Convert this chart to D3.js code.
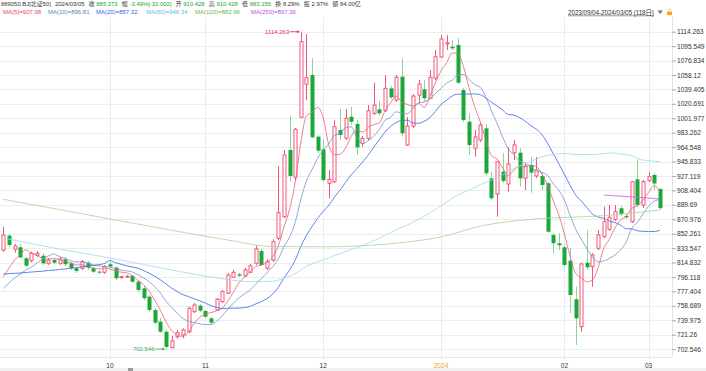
<!DOCTYPE html>
<html>
<head>
<meta charset="utf-8">
<script src="https://cdn.jsdelivr.net/npm/d3@7"></script>
<style>
  html, body { margin: 0; padding: 0; background: #fff; }
  svg { display: block; font-family: "Liberation Sans", "Noto Sans CJK SC", sans-serif; }
</style>
</head>
<body>
<svg id="chart" width="706" height="371"></svg>
<script>
// trading days shown (118)
const tradingDays = [
  ["2023-09", [4,5,6,7,8,11,12,13,14,15,18,19,20,21,22,25,26,27,28]],
  ["2023-10", [9,10,11,12,13,16,17,18,19,20,23,24,25,26,27,30,31]],
  ["2023-11", [1,2,3,6,7,8,9,10,13,14,15,16,17,20,21,22,23,27,28,29,30]],
  ["2023-12", [1,4,5,6,7,8,11,12,13,14,15,18,19,20,21,22,25,26,27,28,29]],
  ["2024-01", [2,3,4,5,8,9,10,11,12,15,16,17,18,19,22,23,24,25,26,29,30,31]],
  ["2024-02", [1,2,5,6,7,8,19,20,21,22,23,26,27,28,29]],
  ["2024-03", [1,4,5]]
];
const dates = tradingDays.flatMap(([m, ds]) => ds.map(d => `${m}-${String(d).padStart(2, "0")}`));

const opens = [
  831.1, 849.7, 832.0, 834.6, 820.3, 817.2, 824.2, 823.7, 813.8, 818.1,
  813.8, 819.0, 813.8, 807.4, 807.4, 814.6, 807.4, 803.0, 802.2, 812.6,
  808.2, 795.7, 796.0, 797.4, 790.0, 781.4, 770.6, 753.3, 738.1, 725.1,
  704.4, 718.7, 720.9, 725.1, 751.1, 758.9, 752.0, 742.5, 753.3, 764.1,
  775.0, 795.7, 799.6, 797.4, 802.2, 813.8, 829.8, 807.4, 818.1, 846.3,
  874.3, 960.8, 925.4, 1003.2, 1046.0, 1058.1, 978.1, 961.7, 917.6, 919.7,
  986.7, 976.0, 1004.0, 994.5, 969.5, 976.0, 1008.4, 1013.6, 1011.8, 1040.8,
  1025.6, 1055.9, 967.3, 991.9, 1032.1, 1039.5, 1027.9, 1054.2, 1081.4, 1098.3,
  1094.8, 1097.0, 1038.6, 997.5, 963.0, 973.8, 988.9, 924.1, 903.7, 932.7,
  916.7, 957.3, 957.3, 924.1, 941.3, 927.1, 927.1, 917.6, 850.6, 839.8,
  834.6, 817.2, 767.2, 731.6, 814.6, 809.5, 833.3, 848.4, 857.9, 870.9,
  885.2, 875.2, 867.8, 922.8, 889.5, 921.0, 928.4, 910.428
];
const highs = [
  861.3, 851.9, 838.9, 838.9, 822.0, 828.9, 829.8, 827.2, 820.7, 820.7,
  822.0, 822.0, 815.5, 809.1, 818.1, 816.8, 809.1, 805.2, 811.7, 815.5,
  810.4, 797.4, 798.7, 798.7, 792.2, 784.4, 772.7, 755.9, 742.9, 727.4,
  719.6, 727.4, 729.6, 757.6, 762.4, 761.1, 753.3, 744.2, 768.9, 779.2,
  801.3, 805.2, 801.3, 807.8, 813.0, 836.7, 832.4, 819.4, 845.0, 940.0,
  960.8, 1005.3, 989.3, 1114.263, 1111.2, 1079.7, 980.3, 973.8, 934.9, 999.7,
  1014.0, 1014.0, 1016.9, 999.7, 978.9, 1019.2, 1048.1, 1024.7, 1058.1, 1043.8,
  1058.1, 1079.7, 1003.6, 1033.4, 1051.6, 1051.6, 1064.6, 1090.5, 1110.0, 1109.9,
  1103.6, 1105.7, 1041.2, 1008.8, 986.7, 995.8, 994.5, 932.7, 946.5, 957.0,
  964.7, 973.8, 963.4, 943.9, 951.7, 951.7, 932.3, 919.3, 853.2, 853.2,
  837.6, 833.7, 783.5, 814.6, 857.1, 826.8, 857.1, 887.3, 889.5, 889.5,
  888.2, 877.8, 920.6, 948.7, 921.9, 931.9, 931.0, 910.428
];
const lows = [
  828.9, 835.0, 827.6, 820.3, 809.1, 815.2, 822.0, 811.7, 811.7, 813.0,
  811.7, 810.4, 805.2, 801.3, 805.2, 805.2, 801.3, 800.0, 800.0, 807.8,
  792.2, 793.5, 794.8, 788.3, 776.6, 766.3, 750.7, 735.1, 723.5, 702.546,
  703.6, 715.7, 716.6, 723.1, 749.4, 750.7, 742.9, 735.1, 752.0, 762.4,
  774.0, 794.8, 796.1, 796.1, 801.3, 811.7, 810.4, 805.2, 815.5, 844.1,
  872.6, 919.7, 921.9, 1002.3, 1025.6, 976.0, 957.0, 919.3, 898.2, 918.0,
  973.8, 973.8, 993.2, 954.3, 965.1, 973.8, 1006.2, 1006.2, 1010.1, 1026.9,
  1023.0, 978.1, 966.0, 989.3, 1021.8, 1023.4, 1026.9, 1051.6, 1080.1, 1090.5,
  1090.5, 1046.4, 997.1, 954.3, 952.1, 971.2, 928.4, 895.6, 874.3, 918.0,
  906.7, 947.8, 913.2, 908.9, 905.4, 924.5, 908.9, 853.2, 827.2, 831.1,
  809.1, 749.4, 707.9, 725.1, 805.2, 783.5, 831.1, 846.7, 855.8, 868.7,
  875.2, 871.3, 866.1, 886.9, 885.6, 919.3, 908.9, 883.155
];
const closes = [
  850.6, 837.6, 836.3, 821.6, 810.7, 826.8, 826.8, 813.8, 818.1, 814.6,
  819.4, 812.6, 807.4, 803.9, 815.9, 808.2, 803.0, 801.7, 809.5, 809.5,
  794.4, 796.5, 796.9, 790.0, 779.2, 768.5, 753.3, 736.8, 725.1, 705.3,
  713.1, 723.9, 727.4, 755.5, 759.8, 752.4, 744.6, 736.8, 767.2, 777.0,
  798.7, 802.2, 797.8, 805.2, 810.7, 832.4, 811.7, 815.9, 841.9, 879.5,
  954.3, 927.1, 987.6, 1101.3, 1054.6, 977.3, 959.9, 921.9, 922.8, 991.0,
  980.3, 1001.9, 997.5, 964.3, 976.0, 1011.8, 1019.2, 1008.4, 1040.8, 1029.2,
  1055.1, 982.5, 991.9, 1030.8, 1046.4, 1027.9, 1055.1, 1081.8, 1104.8, 1099.9,
  1092.7, 1048.1, 999.7, 967.3, 977.7, 993.2, 930.6, 898.2, 945.6, 920.6,
  942.6, 967.3, 924.1, 940.0, 931.4, 934.9, 915.4, 854.8, 839.8, 837.2,
  811.7, 772.7, 742.5, 813.0, 808.7, 824.6, 850.6, 867.8, 873.5, 880.8,
  877.8, 873.5, 919.7, 889.5, 919.7, 926.2, 917.4, 885.373
];

// moving-average values before a full window is on screen
const ma5Head = [796.5, 807.8, 818.1, 824.6];
const ma10Head = [781.4, 788.3, 794.8, 800.0, 805.2, 809.1, 814.3, 819.4, 823.3];
const ma20Head = [799.8, 800.4, 800.9, 801.2, 801.9, 802.5, 803.1, 803.6, 804.5, 805.0,
                  805.9, 806.5, 807.4, 808.1, 809.3, 810.0, 811.2, 812.1, 813.5];
const ma60Head = [[0, 846.7], [10, 832.4], [20, 819.4], [30, 805.2], [38, 795.0], [44, 790.0],
                  [48, 790.5], [50, 794.5], [52, 800.5], [54, 810.0], [56, 816.0], [58, 820.8]];
const ma120Pts = [[0, 896.9], [10, 883.5], [20, 870.0], [30, 856.7], [40, 844.1], [48, 835.6],
                  [58, 835.2], [65, 837.0], [72, 841.5], [78, 848.0], [85, 862.0], [92, 869.5],
                  [98, 872.8], [104, 874.3], [110, 877.5], [117, 882.96]];
const ma250Pts = [[107, 902.3], [112, 900.0], [117, 897.36]];

const yTicks = [1114.263, 1095.549, 1076.834, 1058.12, 1039.405, 1020.691, 1001.977, 983.262,
  964.548, 945.833, 927.119, 908.404, 889.69, 870.976, 852.261, 833.547, 814.832, 796.118,
  777.404, 758.689, 739.975, 721.26, 702.546];

const maNames = ["MA(5)", "MA(10)", "MA(20)", "MA(60)", "MA(120)", "MA(250)"];
const maLast = ["907.98", "896.81", "857.32", "946.34", "882.96", "897.36"];
const maTextColors = ["#e8455a", "#5a7fc4", "#2e5fe6", "#55c0e6", "#63b84f", "#c24ee0"];
const maLineColors = ["#e66a7e", "#8098c8", "#3f6ee6", "#a3dcf0", "#a9d79c", "#cf63ea"];
const maLegendX = [3, 48, 96, 146, 195, 251];

const quoteItems = [
  ["", "889050.BJ[北证50]", "#333"],
  ["", "2024/03/05", "#333"],
  ["收", "885.373", "#17a23a"],
  ["幅", "-3.49%[-32.002]", "#17a23a"],
  ["开", "910.428", "#17a23a"],
  ["高", "910.428", "#17a23a"],
  ["低", "883.155", "#17a23a"],
  ["换", "8.29%", "#333"],
  ["振", "2.97%", "#333"],
  ["额", "84.00亿", "#333"]
];
const rangeLabel = "2023/09/04-2024/03/05 (118日)";

const upColor = "#f0577a", downColor = "#1aa83a", downWick = "#8ad697";
const plotRight = 672, plotTop = 17, plotBottom = 357;

const svg = d3.select("#chart");

const x = d3.scaleBand().domain(dates).range([0.6, 662.6]).paddingInner(0.28).paddingOuter(0.14);
const cx = i => x(dates[i]) + x.bandwidth() / 2;
const y = d3.scaleLinear().domain([yTicks[yTicks.length - 1], yTicks[0]]).range([349.1, 31.7]);

// horizontal grid
svg.append("g").selectAll("line").data(yTicks).join("line")
    .attr("x1", 0).attr("x2", plotRight)
    .attr("y1", d => Math.round(y(d)) + 0.5).attr("y2", d => Math.round(y(d)) + 0.5)
    .attr("stroke", "#ededed");

// month boundaries
const monthStarts = dates.filter((d, i) => i > 0 && d.slice(0, 7) !== dates[i - 1].slice(0, 7));
svg.append("g").selectAll("line").data(monthStarts).join("line")
    .attr("x1", d => Math.round(x(d) + x.bandwidth() / 2) + 0.5)
    .attr("x2", d => Math.round(x(d) + x.bandwidth() / 2) + 0.5)
    .attr("y1", plotTop).attr("y2", plotBottom + 2)
    .attr("stroke", "#ebebeb");

// frame
svg.append("line").attr("x1", plotRight + 0.5).attr("x2", plotRight + 0.5)
    .attr("y1", plotTop).attr("y2", plotBottom).attr("stroke", "#e3e3e3");
svg.append("line").attr("x1", 0).attr("x2", plotRight)
    .attr("y1", plotBottom + 0.5).attr("y2", plotBottom + 0.5).attr("stroke", "#e8e8e8");

// candles
const idx = d3.range(dates.length);
const candles = svg.append("g").selectAll("g").data(idx).join("g");
candles.each(function(i) {
  const g = d3.select(this);
  const c = Math.round(cx(i));
  const up = closes[i] >= opens[i];
  const yt = y(Math.max(opens[i], closes[i])), yb = y(Math.min(opens[i], closes[i]));
  g.append("line")
      .attr("x1", c + 0.5).attr("x2", c + 0.5)
      .attr("y1", y(highs[i])).attr("y2", y(lows[i]))
      .attr("stroke", up ? upColor : downWick).attr("stroke-width", 1);
  if (up) {
    g.append("rect")
        .attr("x", c - 1).attr("width", 3)
        .attr("y", yt).attr("height", Math.max(yb - yt, 0.8))
        .attr("fill", "#fff").attr("stroke", upColor).attr("stroke-width", 1);
  } else {
    g.append("rect")
        .attr("x", c - 1.5).attr("width", 4)
        .attr("y", yt).attr("height", Math.max(yb - yt, 1))
        .attr("fill", downColor);
  }
});

// moving averages
function movingAvg(n, head) {
  return closes.map((c, i) => [i, i < n - 1 ? head[i] : d3.mean(closes.slice(i - n + 1, i + 1))]);
}
const ma60 = ma60Head.concat(idx.filter(i => i >= 59).map(i => [i, d3.mean(closes.slice(i - 59, i + 1))]));
const maSeries = [movingAvg(5, ma5Head), movingAvg(10, ma10Head), movingAvg(20, ma20Head), ma60, ma120Pts, ma250Pts];

const line = d3.line().x(d => cx(d[0])).y(d => y(d[1])).curve(d3.curveMonotoneX);
svg.append("g").selectAll("path").data(maSeries).join("path")
    .attr("d", line)
    .attr("fill", "none")
    .attr("stroke", (d, k) => maLineColors[k])
    .attr("stroke-width", 0.85);

// high / low markers
const hi = d3.maxIndex(highs), lo = d3.minIndex(lows);
function marker(i, v, color) {
  const px = cx(i), py = y(v);
  svg.append("line").attr("x1", px - 11).attr("x2", px - 1.5).attr("y1", py).attr("y2", py)
      .attr("stroke", color).attr("stroke-width", 0.8);
  svg.append("path").attr("d", `M${px - 1.2},${py} l-2.6,-1.5 v3 z`).attr("fill", color);
  svg.append("text").attr("x", px - 11.5).attr("y", py + 2.2)
      .attr("text-anchor", "end").attr("font-size", 6).attr("fill", color)
      .text(String(v));
}
marker(hi, highs[hi], "#e8305a");
marker(lo, lows[lo], "#3aa860");

// right axis
const yAxis = svg.append("g").attr("transform", `translate(${plotRight},0)`)
    .call(d3.axisRight(y).tickValues(yTicks).tickFormat(d => String(d)).tickSize(4).tickPadding(1));
yAxis.select(".domain").remove();
yAxis.selectAll(".tick line").attr("stroke", "#aaa");
yAxis.selectAll(".tick text").attr("font-size", 6.6).attr("fill", "#333")
    .attr("font-family", "Liberation Sans, sans-serif");

// bottom axis
const xAxis = svg.append("g").attr("transform", `translate(0,${plotBottom + 3})`)
    .call(d3.axisBottom(x).tickValues(monthStarts).tickSize(0).tickPadding(3)
      .tickFormat(d => d.slice(5, 7) === "01" ? d.slice(0, 4) : d.slice(5, 7)));
xAxis.select(".domain").remove();
xAxis.selectAll(".tick text").attr("font-size", 6.6)
    .attr("font-family", "Liberation Sans, sans-serif")
    .attr("fill", d => d.slice(5, 7) === "01" ? "#f0a030" : "#333");

// scroll strip
svg.append("rect").attr("x", 0).attr("y", 368).attr("width", 706).attr("height", 3).attr("fill", "#f0f0f0");
svg.append("rect").attr("x", 128).attr("y", 368).attr("width", 5).attr("height", 3).attr("fill", "#9a9a9a");

// quote line
const q = svg.append("text").attr("x", 1).attr("y", 6).attr("font-size", 5.9).attr("fill", "#333");
quoteItems.forEach(([label, value, color], k) => {
  if (label) q.append("tspan").attr("dx", k ? 4.2 : 0).text(label);
  q.append("tspan").attr("dx", label ? 1.8 : (k ? 4.2 : 0)).attr("fill", color).text(value);
});

// MA legend
svg.append("g").selectAll("text").data(maNames).join("text")
    .attr("x", (d, k) => maLegendX[k]).attr("y", 14.3)
    .attr("font-size", 6).attr("fill", (d, k) => maTextColors[k])
    .text((d, k) => `${d}=${maLast[k]}`);

// range selector
svg.append("text").attr("x", 568).attr("y", 14.5).attr("font-size", 6.4).attr("fill", "#333")
    .attr("textLength", 86).attr("lengthAdjust", "spacing").text(rangeLabel);
svg.append("line").attr("x1", 568).attr("x2", 654).attr("y1", 15.8).attr("y2", 15.8)
    .attr("stroke", "#555").attr("stroke-width", 0.6);
svg.append("path").attr("d", "M657.5,10.5 h5.5 l-2.75,3.6 z").attr("fill", "#777");
svg.append("rect").attr("x", 667).attr("y", 11.5).attr("width", 5).attr("height", 3.6).attr("fill", "#f5a623");
svg.append("path").attr("d", "M668.3,11.6 v-1.4 a1.3,1.3 0 0 1 2.6,0").attr("fill", "none")
    .attr("stroke", "#f5c060").attr("stroke-width", 0.7);
</script>
</body>
</html>
